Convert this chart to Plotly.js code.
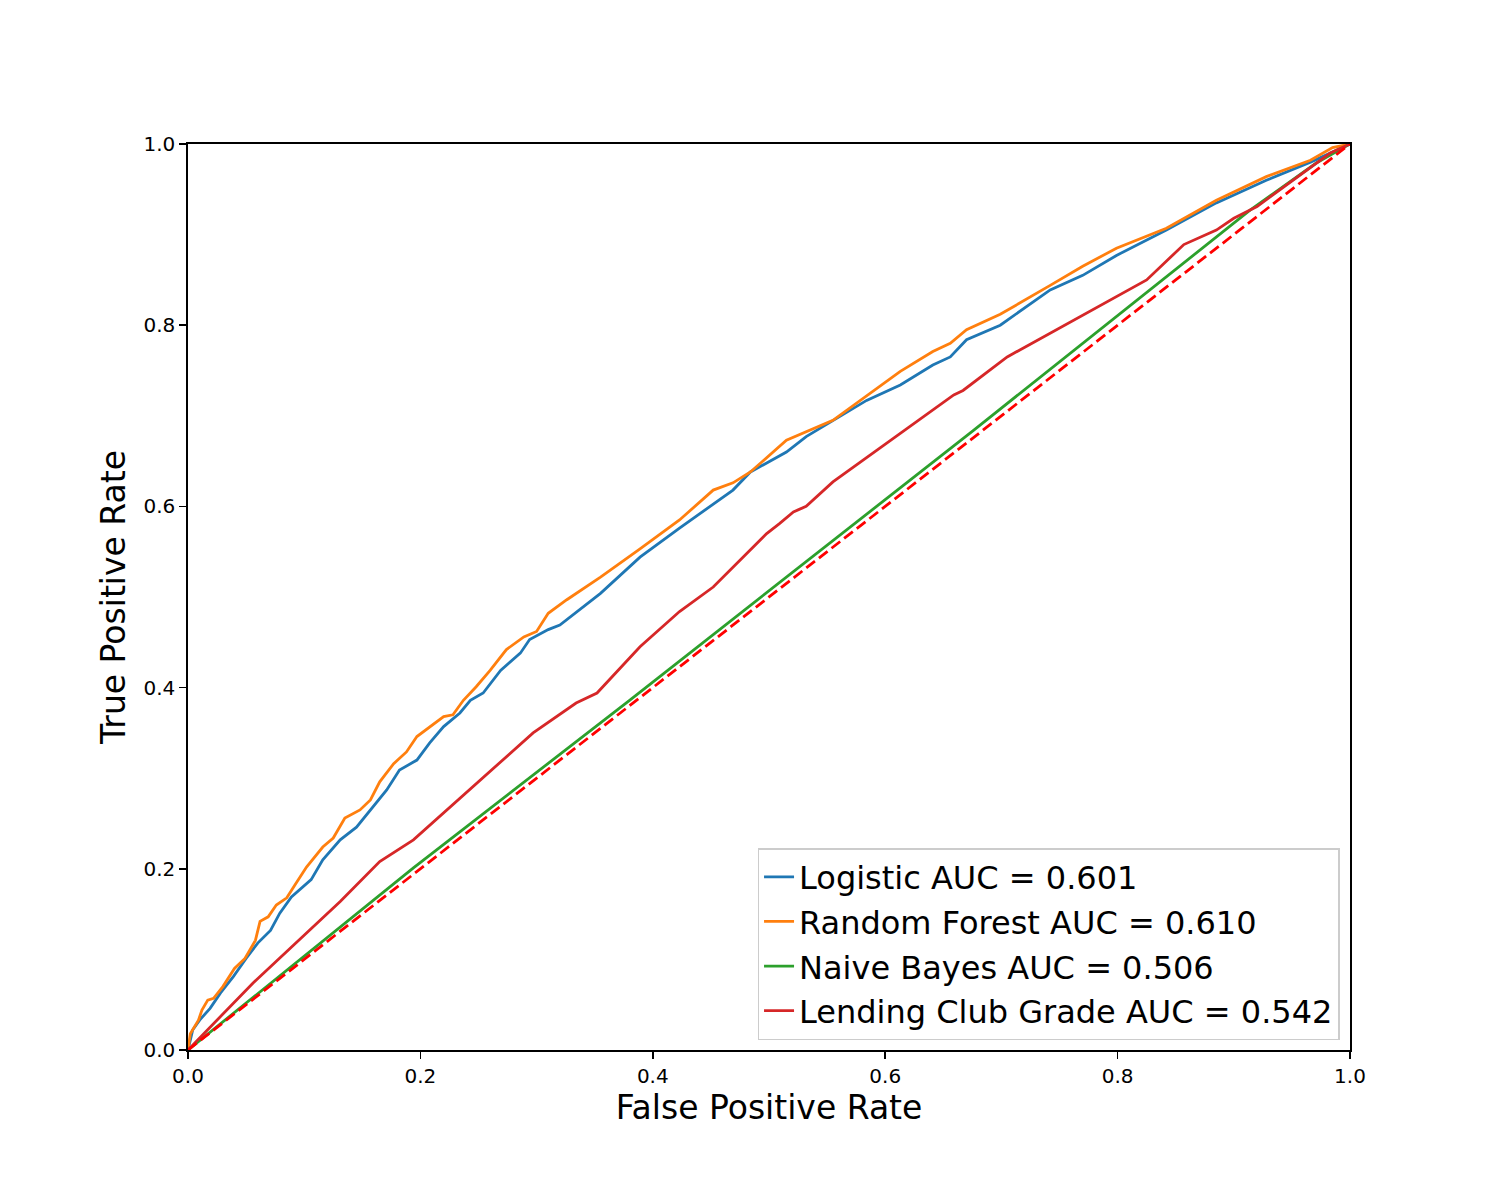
<!DOCTYPE html>
<html>
<head>
<meta charset="utf-8">
<script src="https://cdn.plot.ly/plotly-3.0.1.min.js"></script>
<style>
  body { margin: 0; background: #fff; }
  #chart { width: 1500px; height: 1200px; }
</style>
</head>
<body>
<div id="chart"></div>
<script>
// ROC curves (false positive rate / true positive rate)
var logisticFpr = [0, 0.004, 0.010, 0.019, 0.028, 0.039, 0.050, 0.060, 0.071, 0.079, 0.089, 0.099, 0.106,
  0.116, 0.131, 0.145, 0.157, 0.171, 0.182, 0.197, 0.208, 0.220, 0.234, 0.243, 0.254, 0.269, 0.286, 0.294,
  0.310, 0.320, 0.355, 0.389, 0.423, 0.452, 0.469, 0.484, 0.515, 0.532, 0.555, 0.584, 0.613, 0.641, 0.656,
  0.670, 0.699, 0.742, 0.770, 0.799, 0.842, 0.885, 0.928, 0.966, 0.985, 1];
var logisticTpr = [0, 0.022, 0.033, 0.046, 0.063, 0.081, 0.101, 0.118, 0.132, 0.151, 0.169, 0.180, 0.188,
  0.210, 0.232, 0.246, 0.265, 0.287, 0.309, 0.320, 0.339, 0.357, 0.372, 0.386, 0.394, 0.419, 0.438, 0.453,
  0.464, 0.469, 0.504, 0.544, 0.576, 0.603, 0.618, 0.638, 0.660, 0.677, 0.695, 0.717, 0.734, 0.756, 0.765,
  0.784, 0.800, 0.839, 0.855, 0.877, 0.905, 0.935, 0.960, 0.980, 0.991, 1];

var forestFpr = [0, 0.002, 0.009, 0.012, 0.017, 0.022, 0.030, 0.040, 0.049, 0.058, 0.062, 0.069, 0.076,
  0.085, 0.092, 0.102, 0.116, 0.125, 0.135, 0.148, 0.157, 0.165, 0.177, 0.188, 0.197, 0.208, 0.220, 0.228,
  0.237, 0.248, 0.260, 0.274, 0.289, 0.300, 0.310, 0.326, 0.355, 0.389, 0.423, 0.452, 0.469, 0.484, 0.515,
  0.555, 0.613, 0.641, 0.656, 0.670, 0.699, 0.742, 0.770, 0.799, 0.842, 0.885, 0.928, 0.966, 0.985, 1];
var forestTpr = [0, 0.018, 0.033, 0.044, 0.055, 0.057, 0.070, 0.090, 0.101, 0.121, 0.142, 0.147, 0.160,
  0.168, 0.182, 0.202, 0.224, 0.234, 0.256, 0.265, 0.276, 0.296, 0.316, 0.329, 0.346, 0.357, 0.368, 0.370,
  0.386, 0.401, 0.419, 0.442, 0.456, 0.462, 0.482, 0.497, 0.522, 0.553, 0.585, 0.618, 0.626, 0.638, 0.673,
  0.695, 0.749, 0.771, 0.780, 0.795, 0.812, 0.844, 0.865, 0.885, 0.907, 0.938, 0.964, 0.982, 0.996, 1];

var bayesFpr = [0, 0.194, 0.380, 0.676, 0.914, 0.971, 1];
var bayesTpr = [0, 0.201, 0.386, 0.684, 0.927, 0.979, 1];

var gradeFpr = [0, 0.056, 0.131, 0.165, 0.194, 0.297, 0.334, 0.352, 0.389, 0.423, 0.452, 0.498, 0.509,
  0.521, 0.532, 0.555, 0.659, 0.667, 0.705, 0.825, 0.857, 0.885, 0.900, 0.920, 0.983, 1];
var gradeTpr = [0, 0.074, 0.164, 0.208, 0.232, 0.350, 0.383, 0.394, 0.445, 0.484, 0.511, 0.570, 0.581,
  0.594, 0.600, 0.627, 0.723, 0.728, 0.765, 0.850, 0.889, 0.905, 0.918, 0.931, 0.990, 1];

var names = ['Logistic AUC = 0.601', 'Random Forest AUC = 0.610',
  'Naive Bayes AUC = 0.506', 'Lending Club Grade AUC = 0.542'];
var colors = ['#1f77b4', '#ff7f0e', '#2ca02c', '#d62728'];
var chance = [0, 1];

function curve(x, y, i) {
  return {
    x: x, y: y, type: 'scatter', mode: 'lines', name: names[i],
    line: {color: colors[i], width: 2.8}
  };
}

var data = [
  curve(logisticFpr, logisticTpr, 0),
  curve(forestFpr, forestTpr, 1),
  curve(bayesFpr, bayesTpr, 2),
  curve(gradeFpr, gradeTpr, 3),
  {x: chance, y: chance, type: 'scatter', mode: 'lines', showlegend: false,
   line: {color: '#ff0000', width: 2.8, dash: '11px,5px'}}
];

var axis = {
  range: [0, 1], dtick: 0.2, tick0: 0, tickformat: '.1f',
  showgrid: false, zeroline: false,
  showline: true, mirror: true, linecolor: '#000', linewidth: 1.7,
  ticks: 'outside', ticklen: 7, tickwidth: 1.7, tickcolor: '#000',
  tickfont: {size: 20, color: '#000'}
};

var layout = {
  width: 1500, height: 1200,
  margin: {l: 188, r: 150, t: 144, b: 150},
  paper_bgcolor: '#fff', plot_bgcolor: '#fff',
  font: {family: 'DejaVu Sans', color: '#000'},
  xaxis: Object.assign({}, axis, {title: {text: 'False Positive Rate', font: {size: 33}, standoff: 7}}),
  yaxis: Object.assign({}, axis, {title: {text: 'True Positive Rate', font: {size: 33}, standoff: 8}}),
  legend: {
    x: 0.991, y: 0.011, xanchor: 'right', yanchor: 'bottom',
    bgcolor: 'rgba(255,255,255,0.8)', bordercolor: '#cccccc', borderwidth: 1.5,
    font: {size: 32}
  },
  showlegend: true
};

Plotly.newPlot('chart', data, layout, {staticPlot: true});
</script>
</body>
</html>
